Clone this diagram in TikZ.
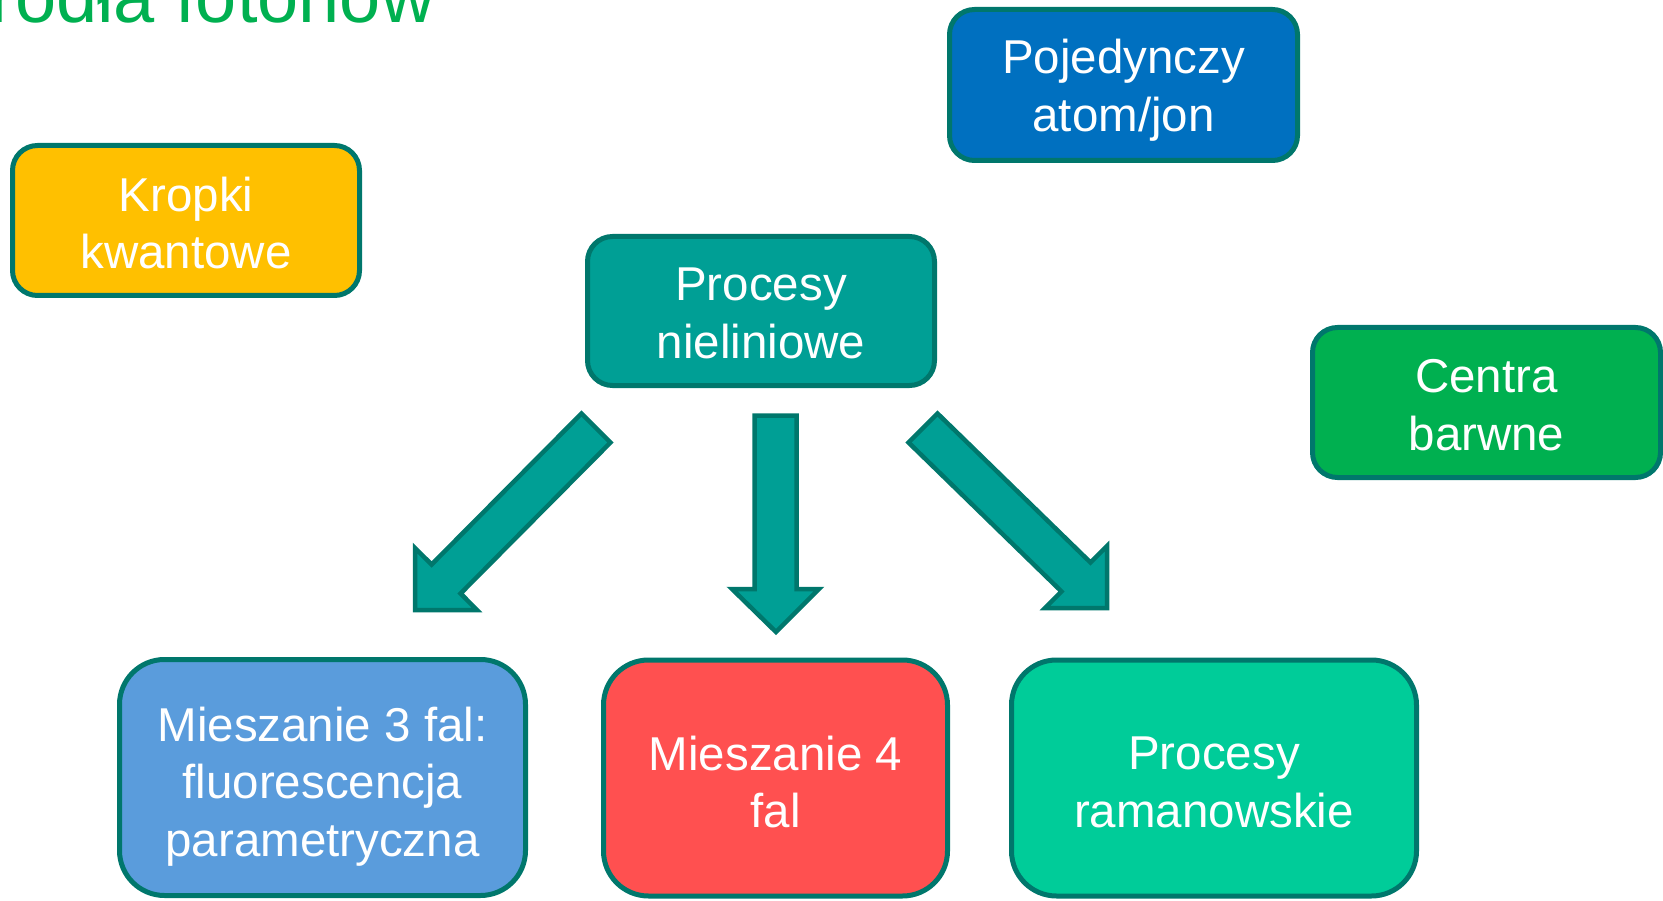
\documentclass[tikz,border=0pt]{standalone}
\usepackage{fontspec}
\setmainfont{Liberation Sans}
\definecolor{edge}{HTML}{00776C}
\definecolor{tealf}{HTML}{009F95}
\definecolor{kropki}{HTML}{FFC000}
\definecolor{pojed}{HTML}{0070C0}
\definecolor{centra}{HTML}{00B050}
\definecolor{mtrzy}{HTML}{5A9CDC}
\definecolor{mcztery}{HTML}{FF5050}
\definecolor{raman}{HTML}{00CC99}
\definecolor{titlec}{HTML}{00B050}
\tikzset{
  box/.style={draw=edge, line width=5pt, rounded corners=25pt, inner sep=0pt,
    minimum width=347pt, minimum height=150pt},
  bigbox/.style={box, rounded corners=45pt, minimum height=236pt},
  boxtext/.style={inner sep=0pt, align=center, text=white,
    font=\fontsize{47.5}{57.5}\selectfont},
  blockarrow/.style={draw=edge, fill=tealf, line width=4.5pt, line join=miter}
}
\begin{document}
\begin{tikzpicture}[x=1pt,y=-1pt]
\useasboundingbox (0,0) rectangle (1663,901);
\clip (0,0) rectangle (1663,901);
\node[anchor=base west, text=titlec, inner sep=0pt, font=\fontsize{74}{88}\selectfont] (title) at (-55,22.5) {Źródła fotonów};
\node[box, fill=kropki] (kropki) at (186,220.5) {};
\node[boxtext] (kropkit) at ([yshift=-2.5pt]kropki.center) {Kropki\\kwantowe};
\node[box, fill=pojed, minimum width=348pt, minimum height=151pt] (pojed) at (1123.5,85) {};
\node[boxtext] (pojedt) at ([yshift=-5pt]pojed.center) {Pojedynczy\\atom/jon};
\node[box, fill=tealf, minimum height=149pt] (nielin) at (761,311) {};
\node[boxtext] (nielint) at ([yshift=-2.5pt]nielin.center) {Procesy\\nieliniowe};
\node[box, fill=centra, minimum width=348pt] (centra) at (1486.5,402.5) {};
\node[boxtext] (centrat) at ([yshift=-2.5pt]centra.center) {Centra\\barwne};
\node[bigbox, fill=mtrzy, minimum width=406pt] (m3) at (322.5,777.5) {};
\node[boxtext] (m3t) at ([yshift=-9pt]m3.center) {Mieszanie 3 fal:\\fluorescencja\\parametryczna};
\node[bigbox, fill=mcztery, minimum width=344pt] (m4) at (775.5,778) {};
\node[boxtext] (m4t) at ([yshift=-4pt]m4.center) {Mieszanie 4\\fal};
\node[bigbox, fill=raman, minimum width=405pt] (ram) at (1214,778) {};
\node[boxtext] (ramt) at ([yshift=-4.5pt]ram.center) {Procesy\\ramanowskie};
% left block arrow
\draw[blockarrow] (581.5,413.5) -- (610.5,442.5) -- (460.6,593.5) -- (477,610) -- (415,610) -- (415,548) -- (431.6,564.5) -- cycle;
% middle block arrow
\draw[blockarrow] (754.5,415.5) -- (796.5,415.5) -- (796.5,589) -- (819,589) -- (776,632) -- (732,589) -- (754.5,589) -- cycle;
% right block arrow
\draw[blockarrow] (937.5,413.5) -- (908.5,442.5) -- (1061.5,591.5) -- (1045,608) -- (1107,608) -- (1107,546) -- (1090.5,562.5) -- cycle;
\end{tikzpicture}
\end{document}
